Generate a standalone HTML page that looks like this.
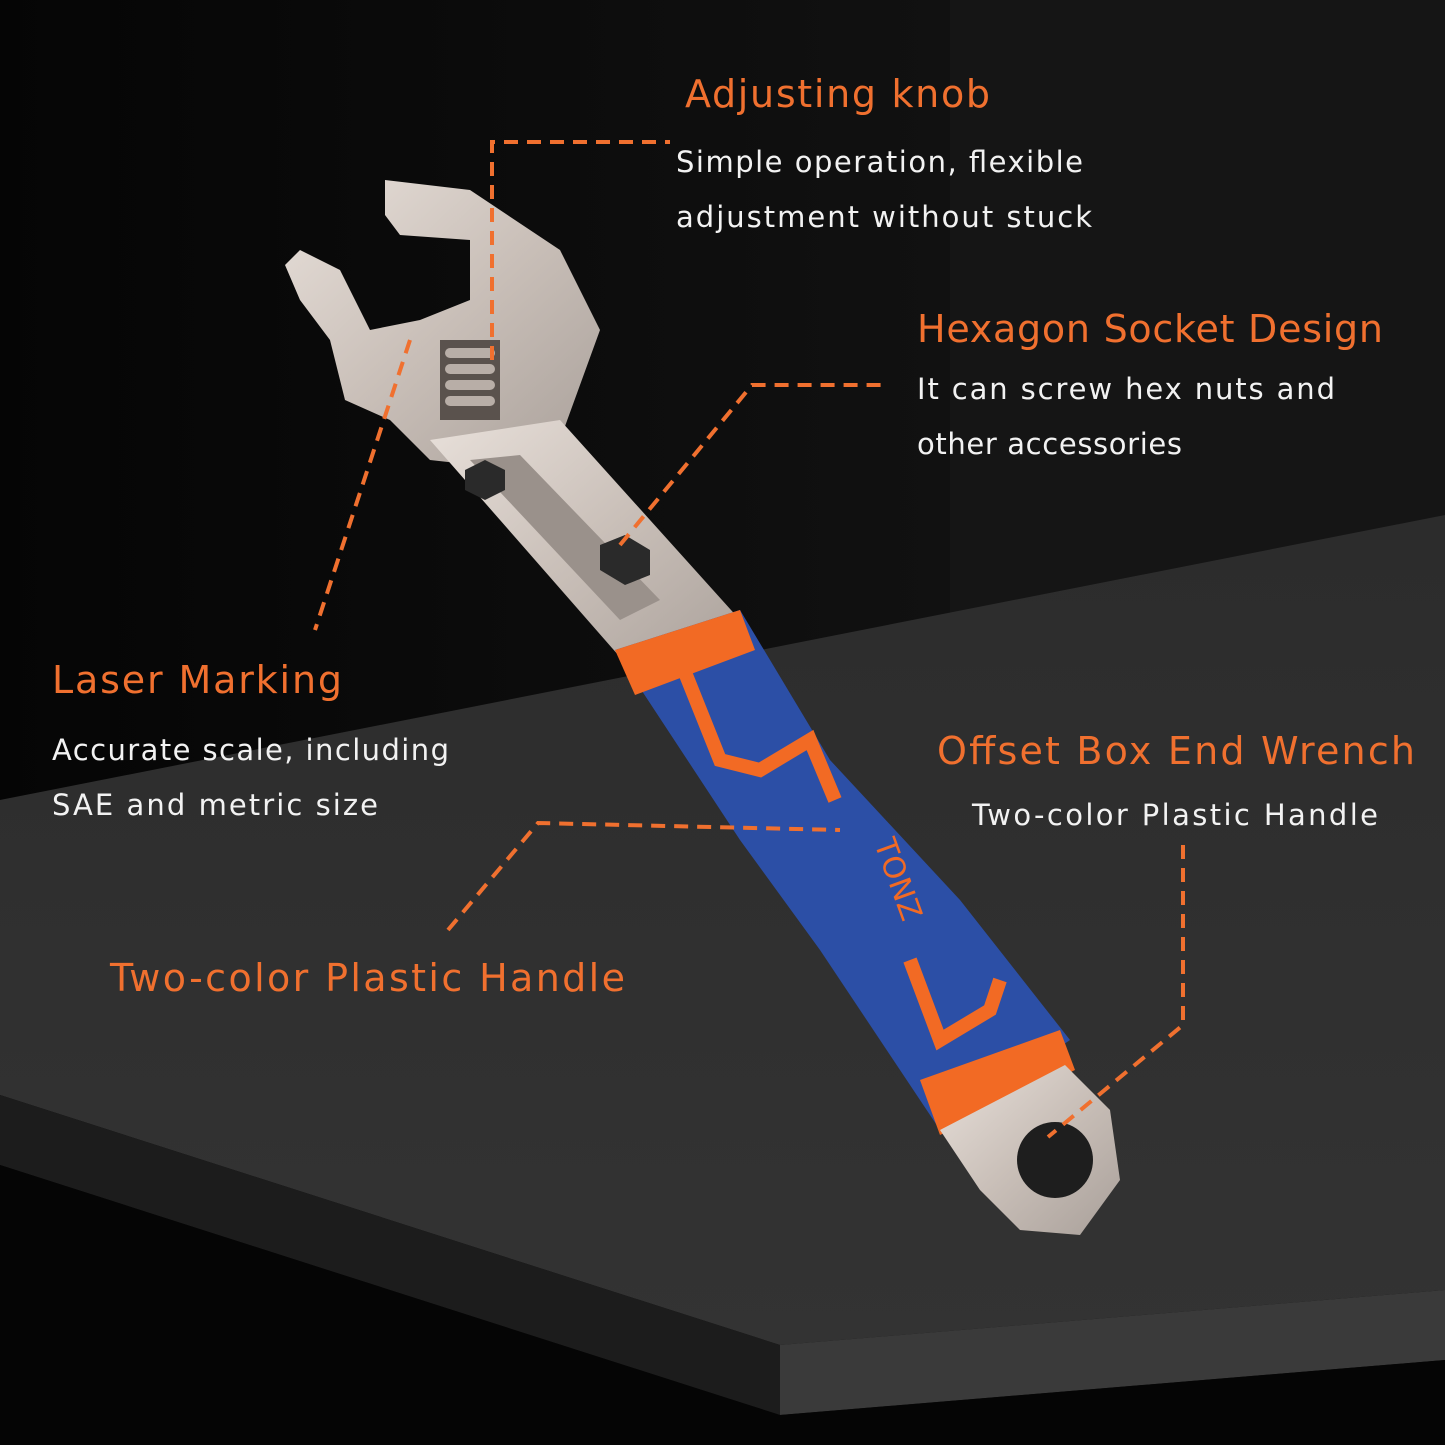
<!DOCTYPE html>
<html><head><meta charset="utf-8"><style>
html,body{margin:0;padding:0;background:#080808;}
svg{display:block}
text{font-family:"DejaVu Sans","Liberation Sans",sans-serif;}
.t{fill:#f0702f;font-size:38px;}
.b{fill:#f2f2f2;font-size:29px;}
.d{stroke:#f0702f;stroke-width:4;stroke-dasharray:14 9;fill:none;}
</style></head><body>
<svg width="1445" height="1445" viewBox="0 0 1445 1445" xmlns="http://www.w3.org/2000/svg">
<defs>
<linearGradient id="wall" x1="0" y1="0" x2="1" y2="0"><stop offset="0" stop-color="#050505"/><stop offset="0.65" stop-color="#111"/><stop offset="1" stop-color="#0a0a0a"/></linearGradient>
<linearGradient id="top" x1="0" y1="0" x2="0" y2="1"><stop offset="0" stop-color="#2c2c2c"/><stop offset="1" stop-color="#333"/></linearGradient>
<linearGradient id="steel" x1="0" y1="0" x2="1" y2="1"><stop offset="0" stop-color="#e8e0da"/><stop offset="0.5" stop-color="#c9bfb8"/><stop offset="1" stop-color="#a9a09a"/></linearGradient>
</defs>
<rect width="1445" height="1445" fill="url(#wall)"/>
<polygon points="950,0 1445,0 1445,515 950,620" fill="#151515"/>
<polygon points="0,800 1445,515 1445,1290 780,1345 0,1095" fill="url(#top)"/>
<polygon points="0,1095 780,1345 780,1415 0,1165" fill="#1c1c1c"/>
<polygon points="780,1345 1445,1290 1445,1360 780,1415" fill="#3a3a3a"/>
<polygon points="0,1165 780,1415 1445,1360 1445,1445 0,1445" fill="#050505"/>

<path d="M385,180 L470,190 L560,250 L600,330 L560,440 L520,470 L430,460 L390,420 L345,400 L330,340 L300,300 L285,265 L300,250 L340,270 L370,330 L420,320 L470,300 L470,240 L400,235 L385,215 Z" fill="url(#steel)"/>
<rect x="440" y="340" width="60" height="80" fill="#5a524d"/>
<g fill="#b8aea7"><rect x="445" y="348" width="50" height="10" rx="5"/><rect x="445" y="364" width="50" height="10" rx="5"/><rect x="445" y="380" width="50" height="10" rx="5"/><rect x="445" y="396" width="50" height="10" rx="5"/></g>
<polygon points="430,440 560,420 740,620 640,680" fill="url(#steel)"/>
<polygon points="470,460 520,455 660,600 620,620" fill="#9a918b"/>
<polygon points="465,470 485,460 505,470 505,490 485,500 465,490" fill="#2a2a2a"/>
<polygon points="600,545 625,535 650,550 650,575 625,585 600,570" fill="#2a2a2a"/>
<path d="M615,650 L740,610 L830,760 L960,900 L1070,1040 L940,1130 L820,950 L740,840 Z" fill="#2c4fa6"/>
<path d="M615,650 L740,610 L755,650 L635,695 Z" fill="#f26a24"/>
<path d="M680,660 L720,760 L760,770 L810,740 L835,800" stroke="#f26a24" stroke-width="14" fill="none"/>
<path d="M910,960 L940,1040 L990,1010 L1000,980" stroke="#f26a24" stroke-width="14" fill="none"/>
<path d="M920,1080 L1060,1030 L1075,1070 L940,1135 Z" fill="#f26a24"/>
<text x="820" y="840" fill="#f26a24" font-size="30" transform="rotate(70 845 880)">TONZ</text>
<path d="M940,1130 L1065,1065 L1110,1110 L1120,1180 L1080,1235 L1020,1230 L980,1190 Z" fill="url(#steel)"/>
<circle cx="1055" cy="1160" r="38" fill="#1e1e1e"/>

<path class="d" d="M492,360 L492,142 L670,142"/>
<path class="d" d="M620,545 L752,385 L888,385"/>
<path class="d" d="M410,340 L315,630"/>
<path class="d" d="M448,930 L538,823 L840,830"/>
<path class="d" d="M1183,845 L1183,1025 L1048,1137"/>

<text class="t" x="685" y="107" textLength="305" lengthAdjust="spacing">Adjusting knob</text>
<text class="b" x="676" y="172" textLength="407" lengthAdjust="spacing">Simple operation, flexible</text>
<text class="b" x="676" y="227" textLength="416" lengthAdjust="spacing">adjustment without stuck</text>
<text class="t" x="917" y="342" textLength="466" lengthAdjust="spacing">Hexagon Socket Design</text>
<text class="b" x="917" y="399" textLength="418" lengthAdjust="spacing">It can screw hex nuts and</text>
<text class="b" x="917" y="454" textLength="265" lengthAdjust="spacing">other accessories</text>
<text class="t" x="52" y="693" textLength="290" lengthAdjust="spacing">Laser Marking</text>
<text class="b" x="52" y="760" textLength="397" lengthAdjust="spacing">Accurate scale, including</text>
<text class="b" x="52" y="815" textLength="326" lengthAdjust="spacing">SAE and metric size</text>
<text class="t" x="937" y="764" textLength="478" lengthAdjust="spacing">Offset Box End Wrench</text>
<text class="b" x="972" y="825" textLength="406" lengthAdjust="spacing">Two-color Plastic Handle</text>
<text class="t" x="110" y="991" textLength="515" lengthAdjust="spacing">Two-color Plastic Handle</text>
</svg>
</body></html>
